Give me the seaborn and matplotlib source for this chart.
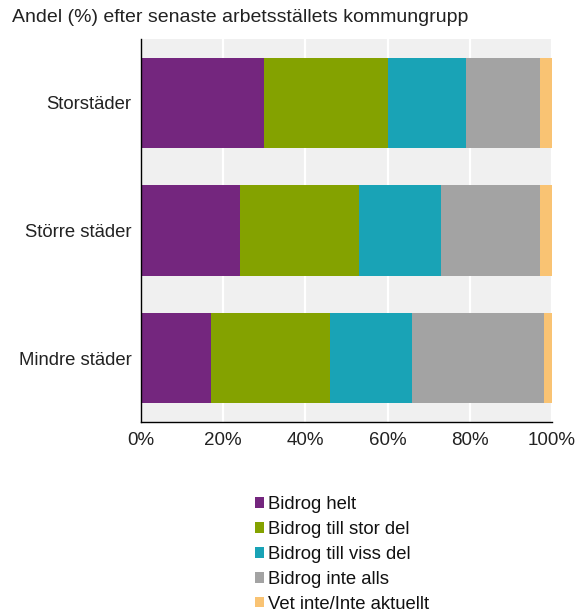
import numpy as np
import pandas as pd
import matplotlib
matplotlib.use("Agg")
import matplotlib.pyplot as plt
from matplotlib.patches import Patch
import seaborn as sns

categories = ["Storstäder", "Större städer", "Mindre städer"]
series_names = ["Bidrog helt", "Bidrog till stor del", "Bidrog till viss del",
                "Bidrog inte alls", "Vet inte/Inte aktuellt"]
bidrog_helt = [30, 24, 17]
bidrog_stor = [30, 29, 29]
bidrog_viss = [19, 20, 20]
bidrog_inte = [18, 24, 32]
vet_inte = [3, 3, 2]
colors = ["#74267e", "#84a200", "#19a3b6", "#a3a3a3", "#f9c373"]
xticks = [0, 20, 40, 60, 80, 100]
xtick_labels = ["0%", "20%", "40%", "60%", "80%", "100%"]
title = "Andel (%) efter senaste arbetsställets kommungrupp"

sns.set_style("white")
plt.rcParams["font.family"] = ["Liberation Sans", "DejaVu Sans"]

values = np.array([bidrog_helt, bidrog_stor, bidrog_viss, bidrog_inte, vet_inte], dtype=float)
cum = np.cumsum(values, axis=0)

fig = plt.figure(figsize=(5.79, 6.12), dpi=100)
ax = fig.add_axes([141 / 579, 1 - 422 / 612, (552 - 141) / 579, (422 - 39) / 612])
ax.set_facecolor("#f0f0f0")

for i in range(len(series_names) - 1, -1, -1):
    df = pd.DataFrame({"kategori": categories, "v": cum[i]})
    sns.barplot(data=df, x="v", y="kategori", orient="h", color=colors[i],
                saturation=1, width=0.71, ax=ax, linewidth=0, zorder=2)

ax.set_xlim(0, 100)
ax.set_ylim(2.5, -0.5)
ax.set_xticks(xticks)
ax.set_xticklabels(xtick_labels, fontsize=13.5, color="#222222")
ax.tick_params(axis="y", labelsize=13.3, length=0, pad=7, labelcolor="#222222")
ax.tick_params(axis="x", length=4, width=1, color="black", direction="out", pad=3)
ax.set_xlabel("")
ax.set_ylabel("")
ax.grid(axis="x", color="white", linewidth=1.6, zorder=1)
ax.set_axisbelow(True)
for s in ["top", "right"]:
    ax.spines[s].set_visible(False)
for s in ["left", "bottom"]:
    ax.spines[s].set_visible(True)
    ax.spines[s].set_color("black")
    ax.spines[s].set_linewidth(1.0)

fig.text(12 / 579, 1 - 18 / 612, title, fontsize=14, ha="left", va="center", color="#222222")

handles = [Patch(facecolor=c, edgecolor="none", label=n) for c, n in zip(colors, series_names)]
leg = fig.legend(handles=handles, loc="upper left", bbox_to_anchor=(255 / 579, 1 - 496 / 612),
                 frameon=False, fontsize=13.3, handlelength=0.5, handleheight=0.5,
                 handletextpad=0.2, labelspacing=0.43, borderaxespad=0, borderpad=0)
for t in leg.get_texts():
    t.set_color("#111111")

fig.savefig("out.png", dpi=100)
